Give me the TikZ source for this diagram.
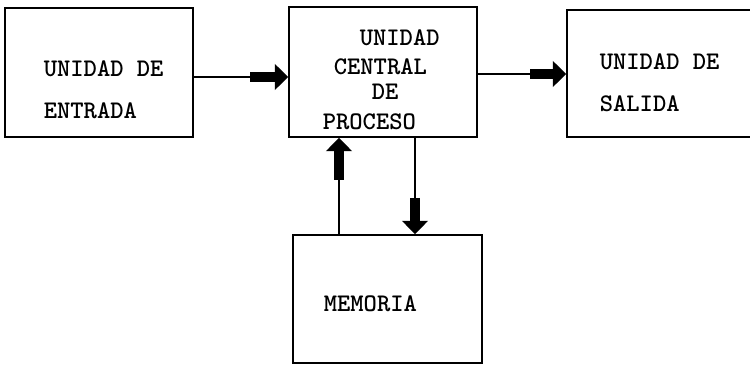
\documentclass[tikz,border=0pt]{standalone}
\usetikzlibrary{arrows.meta}

\tikzset{every picture/.style={line width=1.2pt}}
\tikzset{
  unitbox/.style={draw, rectangle, inner sep=0pt},
  unittext/.style={anchor=base west, inner sep=0.75pt, font=\ttfamily\bfseries\fontsize{19}{21}\selectfont},
  bigarrow/.style={line width=7.5pt, -{Triangle[length=10pt,width=19pt]}},
}

\begin{document}
\begin{tikzpicture}[x=0.75pt,y=0.75pt,yscale=-1,xscale=1]
	\useasboundingbox (0,0) rectangle (750,366);
	\clip (0,0) rectangle (750,366);
	
	% Boxes
	\node [unitbox, minimum width=188*0.75pt, minimum height=129*0.75pt] (entrada) at (99,72.5) {};
	\node [unitbox, minimum width=188*0.75pt, minimum height=130*0.75pt] (cpu) at (383,72) {};
	\node [unitbox, minimum width=193*0.75pt, minimum height=127*0.75pt] (salida) at (663.5,73.5) {};
	\node [unitbox, minimum width=189*0.75pt, minimum height=128*0.75pt] (memoria) at (387.5,299) {};
	
	% Text Node
	\node [unittext] (t1a) at (42,77) {UNIDAD DE};
	\node [unittext] (t1b) at (42,119) {ENTRADA};
	% Text Node
	\node [unittext] (t2a) at (358,46) {UNIDAD};
	\node [unittext] (t2b) at (332,75) {CENTRAL};
	\node [unittext] (t2c) at (370,100) {DE};
	\node [unittext] (t2d) at (321,130) {PROCESO};
	% Text Node
	\node [unittext] (t3a) at (598,70) {UNIDAD DE};
	\node [unittext] (t3b) at (598,112) {SALIDA};
	% Text Node
	\node [unittext] (t4a) at (322,312) {MEMORIA};
	
	% Connectors
	\coordinate (in1) at (250,77);
	\draw (entrada.east |- in1) -- (in1);
	\draw [bigarrow] (in1) -- (cpu.west |- in1);
	
	\coordinate (out1) at (530,74);
	\draw (cpu.east |- out1) -- (out1);
	\draw [bigarrow] (out1) -- (salida.west |- out1);
	
	\coordinate (up1) at (339,180);
	\draw (memoria.north -| up1) -- (up1);
	\draw [bigarrow] (up1) -- (cpu.south -| up1);
	
	\coordinate (dn1) at (415,198);
	\draw (cpu.south -| dn1) -- (dn1);
	\draw [bigarrow] (dn1) -- (memoria.north -| dn1);
	
\end{tikzpicture}
\end{document}
